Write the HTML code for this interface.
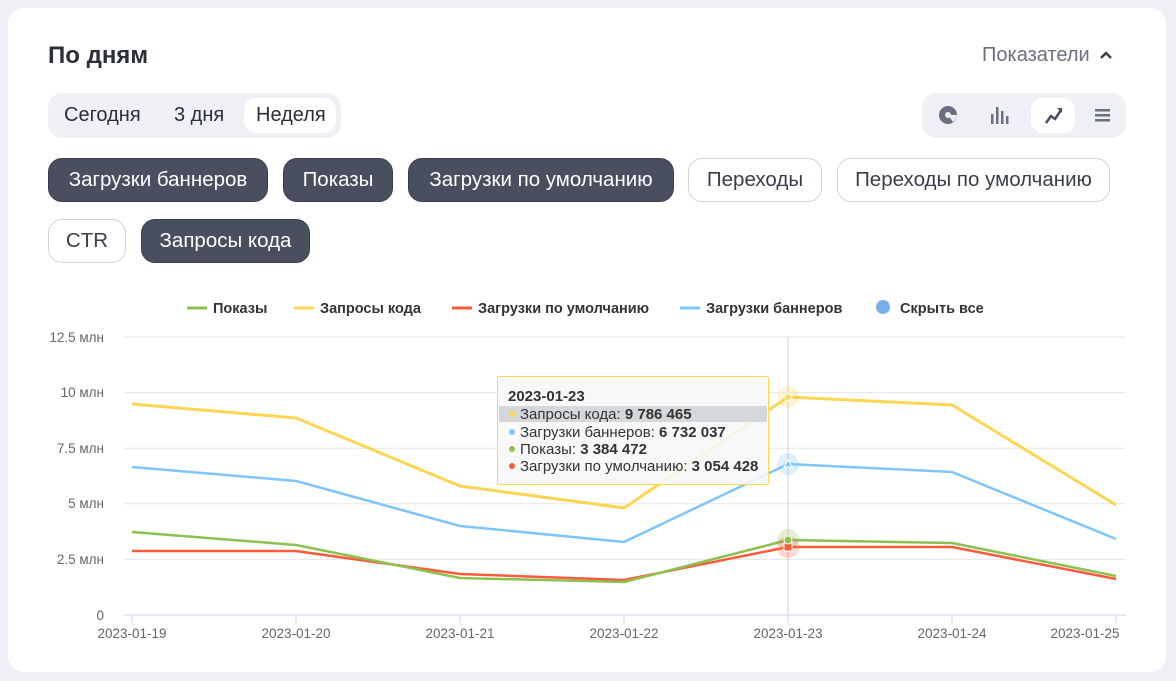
<!DOCTYPE html>
<html><head><meta charset="utf-8"><style>
body{margin:0;width:1176px;height:681px;background:#eef0f5;font-family:"Liberation Sans","DejaVu Sans",sans-serif;position:relative;overflow:hidden;color:#2b2f3a}
.card{position:absolute;left:8px;top:8px;width:1158px;height:664px;background:#fff;border-radius:16px}
.a{position:absolute}
.chip{position:absolute;height:44px;border-radius:14px;box-sizing:border-box;font-size:20.5px;line-height:42px;text-align:center}
.d{background:#4a4f60;color:#fff;border:1px solid #3a3e4c}
.l{background:#fff;color:#3a3e4c;border:1px solid #cfd2d8}
</style></head><body>
<div class="card"></div>
<div class="a" style="left:48px;top:42px;font-size:24px;font-weight:bold;color:#2b2f3a">По дням</div>
<div class="a" style="left:982px;top:44px;font-size:20px;color:#6b7080">Показатели</div>
<svg class="a" style="left:1098px;top:48px" width="16" height="14"><path d="M3 10 L8 5 L13 10" stroke="#3a3e4c" stroke-width="2.5" fill="none"/></svg>
<div class="a" style="left:48px;top:93px;width:293px;height:45px;background:#eef0f5;border-radius:14px"></div>
<div class="a" style="left:244px;top:98px;width:92px;height:35px;background:#fff;border-radius:12px"></div>
<div class="a" style="left:64px;top:104px;font-size:20px">Сегодня</div>
<div class="a" style="left:174px;top:104px;font-size:20px">3 дня</div>
<div class="a" style="left:256px;top:104px;font-size:20px">Неделя</div>
<div class="a" style="left:922px;top:93px;width:204px;height:45px;background:#eef0f5;border-radius:14px"></div>
<div class="a" style="left:1031px;top:98px;width:44px;height:35px;background:#fff;border-radius:12px"></div>
<svg class="a" style="left:920px;top:90px" width="210" height="50">
<circle cx="28" cy="25" r="9" fill="#6b7080"/><path d="M28 25 L37 25 A9 9 0 0 1 33 32Z" fill="#eef0f5"/><circle cx="28" cy="25" r="3" fill="#eef0f5"/>
<g fill="#6b7080"><rect x="71" y="24" width="2.5" height="10"/><rect x="76" y="17" width="2.5" height="17"/><rect x="81" y="21" width="2.5" height="13"/><rect x="86" y="26" width="2.5" height="8"/></g>
<path d="M126 33 L131 26 L135 29 L141 20" stroke="#4a4f60" stroke-width="2.5" fill="none"/><path d="M137 18 L142 18 L142 23Z" fill="#4a4f60"/>
<g fill="#6b7080"><rect x="175" y="19" width="15" height="2.5"/><rect x="175" y="24" width="15" height="2.5"/><rect x="175" y="29" width="15" height="2.5"/></g>
</svg>
<div class="chip d" style="left:48px;top:158px;width:220px">Загрузки баннеров</div>
<div class="chip d" style="left:283px;top:158px;width:110px">Показы</div>
<div class="chip d" style="left:408px;top:158px;width:266px">Загрузки по умолчанию</div>
<div class="chip l" style="left:688px;top:158px;width:134px">Переходы</div>
<div class="chip l" style="left:837px;top:158px;width:273px">Переходы по умолчанию</div>
<div class="chip l" style="left:48px;top:219px;width:78px">CTR</div>
<div class="chip d" style="left:141px;top:219px;width:169px">Запросы кода</div>
<svg class="a" style="left:0;top:0" width="1176" height="681" font-family="Liberation Sans, sans-serif">
<g font-size="14.5" font-weight="bold" fill="#333">
<line x1="187" y1="308" x2="207" y2="308" stroke="#8cc152" stroke-width="3"/><text x="213" y="313">Показы</text>
<line x1="294" y1="308" x2="314" y2="308" stroke="#fcd553" stroke-width="3"/><text x="320" y="313">Запросы кода</text>
<line x1="452" y1="308" x2="472" y2="308" stroke="#fc5c3b" stroke-width="3"/><text x="478" y="313">Загрузки по умолчанию</text>
<line x1="680" y1="308" x2="700" y2="308" stroke="#7dc5fc" stroke-width="3"/><text x="706" y="313">Загрузки баннеров</text>
<circle cx="883" cy="307" r="7" fill="#7aaee8"/><text x="900" y="313">Скрыть все</text>
</g>
<g stroke="#e6e6e6" stroke-width="1">
<line x1="124" y1="337" x2="1126" y2="337"/><line x1="124" y1="392.6" x2="1126" y2="392.6"/><line x1="124" y1="448.2" x2="1126" y2="448.2"/><line x1="124" y1="503.8" x2="1126" y2="503.8"/><line x1="124" y1="559.4" x2="1126" y2="559.4"/></g>
<line x1="124" y1="615" x2="1126" y2="615" stroke="#ccd6eb"/>
<g stroke="#ccd6eb"><line x1="132" y1="615" x2="132" y2="623"/><line x1="296" y1="615" x2="296" y2="623"/><line x1="460" y1="615" x2="460" y2="623"/><line x1="624" y1="615" x2="624" y2="623"/><line x1="788" y1="615" x2="788" y2="623"/><line x1="952" y1="615" x2="952" y2="623"/><line x1="1116" y1="615" x2="1116" y2="623"/></g>
<line x1="788" y1="337" x2="788" y2="615" stroke="#ccc"/>
<g font-size="13.5" fill="#666" text-anchor="end"><text x="104" y="342">12.5 млн</text><text x="104" y="397">10 млн</text><text x="104" y="453">7.5 млн</text><text x="104" y="508">5 млн</text><text x="104" y="564">2.5 млн</text><text x="104" y="620">0</text></g>
<g font-size="13.5" fill="#666" text-anchor="middle"><text x="132" y="638">2023-01-19</text><text x="296" y="638">2023-01-20</text><text x="460" y="638">2023-01-21</text><text x="624" y="638">2023-01-22</text><text x="788" y="638">2023-01-23</text><text x="952" y="638">2023-01-24</text><text x="1085" y="638">2023-01-25</text></g>
<g fill="none" stroke-width="2.5" stroke-linejoin="round">
<polyline stroke="#fc5c3b" points="132,551 296,551 460,574 624,580 788,547 952,547 1116,579"/>
<polyline stroke="#8cc152" points="132,532 296,545 460,578 624,582 788,540 952,543 1116,576"/>
<polyline stroke="#7dc5fc" points="132,467 296,481 460,526 624,542 788,464 952,472 1116,539"/>
<polyline stroke="#fcd553" stroke-width="3" points="132,404 296,418 460,486 624,508 788,397 952,405 1116,505"/>
</g>
<circle cx="788" cy="397" r="11" fill="#fcd553" opacity=".25"/><circle cx="788" cy="464" r="11" fill="#7dc5fc" opacity=".25"/><circle cx="788" cy="540" r="11" fill="#8cc152" opacity=".25"/><circle cx="788" cy="547" r="11" fill="#fc5c3b" opacity=".25"/>
<rect x="784" y="543" width="8" height="8" fill="#fc5c3b" stroke="#fff"/><circle cx="788" cy="540" r="4" fill="#8cc152" stroke="#fff"/>
<path d="M788 460 L792 467 L784 467Z" fill="#7dc5fc" stroke="#fff"/><path d="M788 393 L792 397 L788 401 L784 397Z" fill="#fcd553" stroke="#fff"/>
<rect x="497.5" y="376.5" width="271" height="108" rx="2" fill="#f7f7f7" fill-opacity=".88" stroke="#fcd553"/>
<rect x="499" y="406" width="268" height="16" fill="#d5d8db"/>
<g font-size="15" fill="#333"><text x="508" y="401" font-weight="bold">2023-01-23</text>
<circle cx="512" cy="414" r="3" fill="#fcd553"/><text x="520" y="419">Запросы кода: <tspan font-weight="bold">9 786 465</tspan></text>
<circle cx="512" cy="432" r="3" fill="#7dc5fc"/><text x="520" y="437">Загрузки баннеров: <tspan font-weight="bold">6 732 037</tspan></text>
<circle cx="512" cy="449" r="3" fill="#8cc152"/><text x="520" y="454">Показы: <tspan font-weight="bold">3 384 472</tspan></text>
<circle cx="512" cy="466" r="3" fill="#fc5c3b"/><text x="520" y="471">Загрузки по умолчанию: <tspan font-weight="bold">3 054 428</tspan></text></g>
</svg>
</body></html>
